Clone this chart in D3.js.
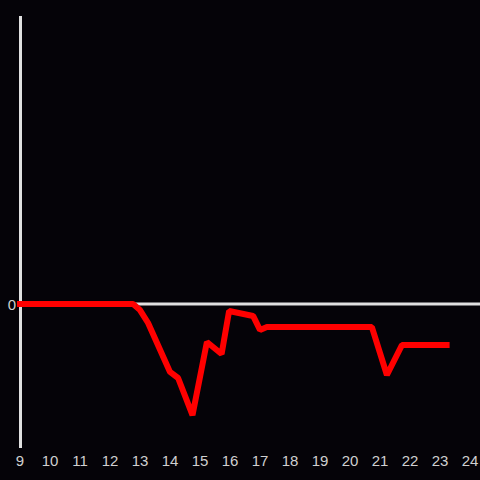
<!DOCTYPE html>
<html><head><meta charset="utf-8">
<script src="https://cdn.jsdelivr.net/npm/d3@7"></script>
<style>html,body{margin:0;padding:0;background:#050308;}svg{display:block;}</style>
</head><body>
<script>
const xTicks = [9,10,11,12,13,14,15,16,17,18,19,20,21,22,23,24];
const yTicks = [0];
const times  = [9, 12.77, 13, 13.27, 14, 14.27, 14.75, 15.23, 15.72, 15.97, 16.77, 17, 17.23, 20.73, 21.23, 21.73, 23.22];
const values = [0, 0, -4.2, -13.2, -47.2, -51.4, -77.2, -26.4, -34.7, -4.9, -8.3, -18, -16, -16, -49.3, -28.5, -28.5];

const W = 480, H = 480;
const svg = d3.select("body").append("svg").attr("width", W).attr("height", H);
svg.append("rect").attr("width", W).attr("height", H).attr("fill", "#050308");

const x = d3.scaleLinear().domain([9, 24]).range([20, 470]);
const y = d3.scaleLinear().domain([-100, 200]).range([448, 16]);

// y axis line
svg.append("line").attr("x1", 20.5).attr("x2", 20.5).attr("y1", 16).attr("y2", 448)
  .attr("stroke", "#e0e0e0").attr("stroke-width", 3);
// zero line
svg.append("line").attr("x1", 20).attr("x2", 480).attr("y1", y(0)).attr("y2", y(0))
  .attr("stroke", "#e0e0e0").attr("stroke-width", 3);

// x tick labels
svg.selectAll("text.xt").data(xTicks).enter().append("text")
  .attr("class", "xt").attr("x", d => x(d)).attr("y", 466)
  .attr("text-anchor", "middle").attr("fill", "#d0d0d0")
  .attr("font-family", "Liberation Sans, Arial, sans-serif").attr("font-size", 15)
  .text(d => d);
// y tick labels
svg.selectAll("text.yt").data(yTicks).enter().append("text")
  .attr("class", "yt").attr("x", 16).attr("y", d => y(d) + 6)
  .attr("text-anchor", "end").attr("fill", "#d0d0d0")
  .attr("font-family", "Liberation Sans, Arial, sans-serif").attr("font-size", 15)
  .text(d => d);

const pts = times.map((t, i) => [t, values[i]]);
const line = d3.line().x(d => x(d[0])).y(d => y(d[1]));
svg.append("path").attr("d", line(pts)).attr("fill", "none")
  .attr("stroke", "#ff0000").attr("stroke-width", 6)
  .attr("stroke-linejoin", "bevel").attr("stroke-linecap", "square");
</script>
</body></html>
